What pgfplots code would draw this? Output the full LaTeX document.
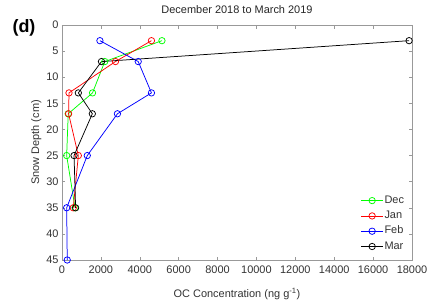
\documentclass[border=0pt]{standalone}
\usepackage{pgfplots}
\pgfplotsset{compat=1.18}
\usepackage{fontspec}
\setmainfont{Liberation Sans}
\definecolor{mgreen}{rgb}{0,1,0}
\definecolor{mred}{rgb}{1,0,0}
\definecolor{mblue}{rgb}{0,0,1}
\definecolor{axgray}{gray}{0.6}
\definecolor{txtgray}{gray}{0.2}
\begin{document}
\begin{tikzpicture}
\begin{axis}[
  scale only axis, width=350bp, height=235bp,
  xmin=0, xmax=18000, ymin=0, ymax=45,
  y dir=reverse,
  xtick={0,2000,...,18000}, ytick={0,5,...,45},
  scaled ticks=false,
  /pgf/number format/1000 sep={},
  /pgf/number format/assume math mode=true,
  tick align=inside, major tick length=3.5bp,
  axis line style={axgray, line width=0.5pt},
  every tick/.style={axgray, line width=0.5pt},
  tick label style={font=\fontsize{11}{13}\selectfont, text=txtgray},
  xticklabel style={yshift=-2.5bp},
  xlabel={OC Concentration (ng g\textsuperscript{-1})},
  ylabel={Snow Depth (cm)},
  label style={font=\fontsize{11}{13}\selectfont, text=txtgray},
  xlabel style={at={(axis description cs:0.5,0)}, anchor=base, yshift=-37bp},
  ylabel style={at={(axis description cs:0,0.5)}, anchor=south, yshift=17bp},
  title={December 2018 to March 2019},
  title style={font=\fontsize{11}{13}\selectfont, text=black!85, at={(axis description cs:0.5,1)}, anchor=base, yshift=6bp},
  legend style={draw=none, fill=none, font=\fontsize{11}{13}\selectfont, text=txtgray,
    at={(rel axis cs:1,0.034)}, anchor=south east, xshift=-8bp,
    inner sep=0pt, outer sep=0pt, row sep=4.3bp, column sep=1bp,
    nodes={inner sep=0pt, text height=8bp, text depth=3bp}},
  legend cell align=left,
  legend image code/.code={\draw[#1, mark repeat=2, mark phase=2] plot coordinates {(0bp,0bp) (11bp,0bp) (22bp,0bp)};},
  every axis plot/.append style={line width=0.75pt, mark=o, mark size=3.2bp, mark options={solid, line width=0.75pt}},
  clip=false,
]
\addplot[mgreen] coordinates {(5140,3) (2200,7) (1570,13) (320,17) (240,25) (670,35)};
\addplot[mred] coordinates {(4600,3) (2750,7) (360,13) (340,17) (840,25) (580,35)};
\addplot[mblue] coordinates {(1950,3) (3920,7) (4600,13) (2850,17) (1300,25) (240,35) (270,45)};
\addplot[black] coordinates {(17850,3) (2030,7) (840,13) (1560,17) (620,25) (700,35)};
\legend{Dec,Jan,Feb,Mar}
\node[font=\fontsize{18}{20}\selectfont\bfseries, anchor=center] at (rel axis cs:-0.1086,0.987) {(d)};
\end{axis}
\pgfresetboundingbox
\path (-62bp,-44bp) rectangle (371bp,260bp);
\end{tikzpicture}
\end{document}
